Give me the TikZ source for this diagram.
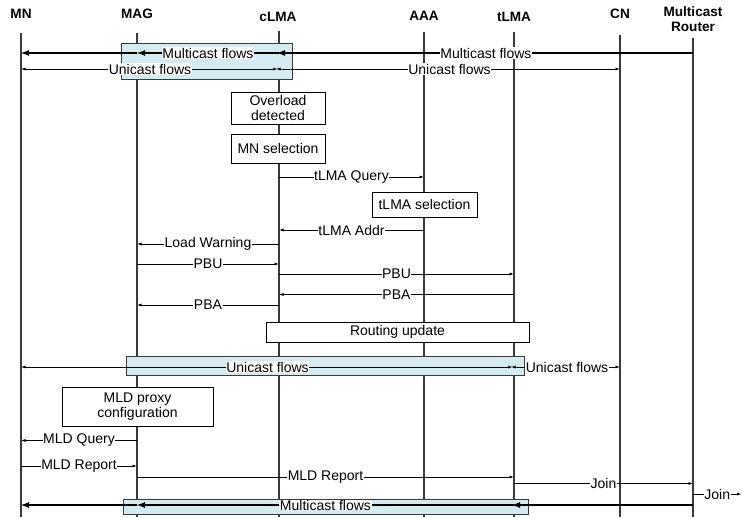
\documentclass[tikz,border=0pt]{standalone}
\usepackage{fontspec}
\setmainfont{Liberation Sans}
\usetikzlibrary{arrows.meta}
\definecolor{flowblue}{HTML}{D4EBF0}
\definecolor{lifegray}{HTML}{3A3A3A}
\begin{document}
\begin{tikzpicture}[x=1pt,y=-1pt,
  hdr/.style={font=\fontsize{13.6}{15}\selectfont\bfseries, align=center, inner sep=0pt},
  life/.style={draw=lifegray, line width=1.1pt},
  msg/.style={draw=black, line width=0.8pt, -{Latex[length=4.5pt,width=3pt]}},
  bimsg/.style={draw=black, line width=0.7pt, {Latex[length=4.5pt,width=3pt]}-{Latex[length=4.5pt,width=3pt]}},
  mcast/.style={draw=black, line width=2pt, -{Latex[length=9pt,width=6pt]}},
  plain/.style={draw=black, line width=2pt},
  lbl/.style={fill=white, inner xsep=0.6pt, inner ysep=1pt, font=\fontsize{14}{16}\selectfont},
  actbox/.style={draw=black, fill=white, line width=0.8pt, align=center, font=\fontsize{14}{16.5}\selectfont, inner sep=0pt},
  flowbox/.style={draw=lifegray, fill=flowblue, line width=1pt}
]
\useasboundingbox (0,0) rectangle (742,517);

% header nodes
\node[hdr] (hMN)   at (21,14)   {MN};
\node[hdr] (hMAG)  at (137,14)  {MAG};
\node[hdr] (hcLMA) at (278,16.5){cLMA};
\node[hdr] (hAAA)  at (424,16)  {AAA};
\node[hdr] (htLMA) at (514,17)  {tLMA};
\node[hdr] (hCN)   at (620,14)  {CN};
\node[hdr] (hMR)   at (693,19)  {Multicast\\Router};

% lifeline x positions
\coordinate (MN)   at (21,33);
\coordinate (MAG)  at (137,33);
\coordinate (cLMA) at (279,31);
\coordinate (AAA)  at (424,32);
\coordinate (tLMA) at (514,32);
\coordinate (CN)   at (620,35);
\coordinate (MR)   at (693,38);
\coordinate (bot)  at (0,517);

\foreach \l in {MN,MAG,cLMA,AAA,tLMA,CN,MR}
  \draw[life] (\l) -- (\l |- bot);

% row y coordinates
\coordinate (r1) at (0,53);
\coordinate (r2) at (0,69);
\coordinate (r3) at (0,177);
\coordinate (r4) at (0,230);
\coordinate (r5) at (0,244);
\coordinate (r6) at (0,264);
\coordinate (r7) at (0,274);
\coordinate (r8) at (0,294.5);
\coordinate (r9) at (0,305);
\coordinate (r10) at (0,367);
\coordinate (r11) at (0,440.5);
\coordinate (r12) at (0,466);
\coordinate (r13) at (0,477);
\coordinate (r14) at (0,483.5);
\coordinate (r15) at (0,494);
\coordinate (r16) at (0,505);
\coordinate (redge) at (741.5,494);

% ---- top flows ----
\draw[flowbox] (121,43) rectangle (292,79);
\draw[mcast, shorten >=-3pt] (MR |- r1) -- node[lbl]{Multicast flows} (cLMA |- r1);
\draw[mcast, shorten >=-1pt] (cLMA |- r1) -- node[lbl]{Multicast flows} (MAG |- r1);
\draw[mcast, shorten >=-1pt] (MAG |- r1) -- (MN |- r1);
\draw[bimsg, shorten >=1.5pt] (MN |- r2) -- node[lbl]{Unicast flows} (cLMA |- r2);
\draw[bimsg, shorten <=-3pt] (cLMA |- r2) -- node[lbl]{Unicast flows} (CN |- r2);

% ---- overload handling ----
\node[actbox, minimum width=94pt, minimum height=32pt] (ovl) at (278,108) {Overload\\[-2pt]detected};
\node[actbox, minimum width=94pt, minimum height=29pt] (mnsel) at (278,148.5) {MN selection};
\draw[msg] (cLMA |- r3) -- node[lbl]{tLMA Query} (AAA |- r3);
\node[actbox, minimum width=105pt, minimum height=25pt] (tsel) at (424.5,204.5) {tLMA selection};
\draw[msg] (AAA |- r4) -- node[lbl]{tLMA Addr} (cLMA |- r4);
\draw[msg] (cLMA |- r5) -- node[lbl]{Load Warning} (MAG |- r5);
\draw[msg] (MAG |- r6) -- node[lbl]{PBU} (cLMA |- r6);
\draw[msg] (cLMA |- r7) -- node[lbl]{PBU} (tLMA |- r7);
\draw[msg] (tLMA |- r8) -- node[lbl]{PBA} (cLMA |- r8);
\draw[msg] (cLMA |- r9) -- node[lbl]{PBA} (MAG |- r9);

\node[actbox, minimum width=263pt, minimum height=20pt] (route) at (397.5,332) {Routing update};

% ---- unicast after update ----
\draw[flowbox] (126,356) rectangle (524,375);
\draw[bimsg, shorten >=1.5pt] (MN |- r10) -- node[lbl]{Unicast flows} (tLMA |- r10);
\draw[bimsg, shorten <=-3pt] (tLMA |- r10) -- node[lbl]{Unicast flows} (CN |- r10);

% ---- MLD ----
\node[actbox, minimum width=151pt, minimum height=39pt] (mld) at (137.5,406.5) {MLD proxy\\[-1pt]configuration};
\draw[msg] (MAG |- r11) -- node[lbl]{MLD Query} (MN |- r11);
\draw[msg] (MN |- r12) -- node[lbl]{MLD Report} (MAG |- r12);
\draw[msg] (MAG |- r13) -- node[lbl]{MLD Report} (tLMA |- r13);
\draw[msg] (tLMA |- r14) -- node[lbl]{Join} (MR |- r14);
\draw[msg] (MR |- r15) -- node[lbl]{Join} (redge);

% ---- bottom multicast ----
\draw[flowbox] (123,499) rectangle (528,514);
\draw[mcast, shorten >=-3pt] (MR |- r16) -- (tLMA |- r16);
\draw[mcast, shorten >=-1pt] (tLMA |- r16) -- node[lbl, inner ysep=0pt]{Multicast flows} (MAG |- r16);
\draw[mcast, shorten >=-1pt] (MAG |- r16) -- (MN |- r16);
\end{tikzpicture}
\end{document}
